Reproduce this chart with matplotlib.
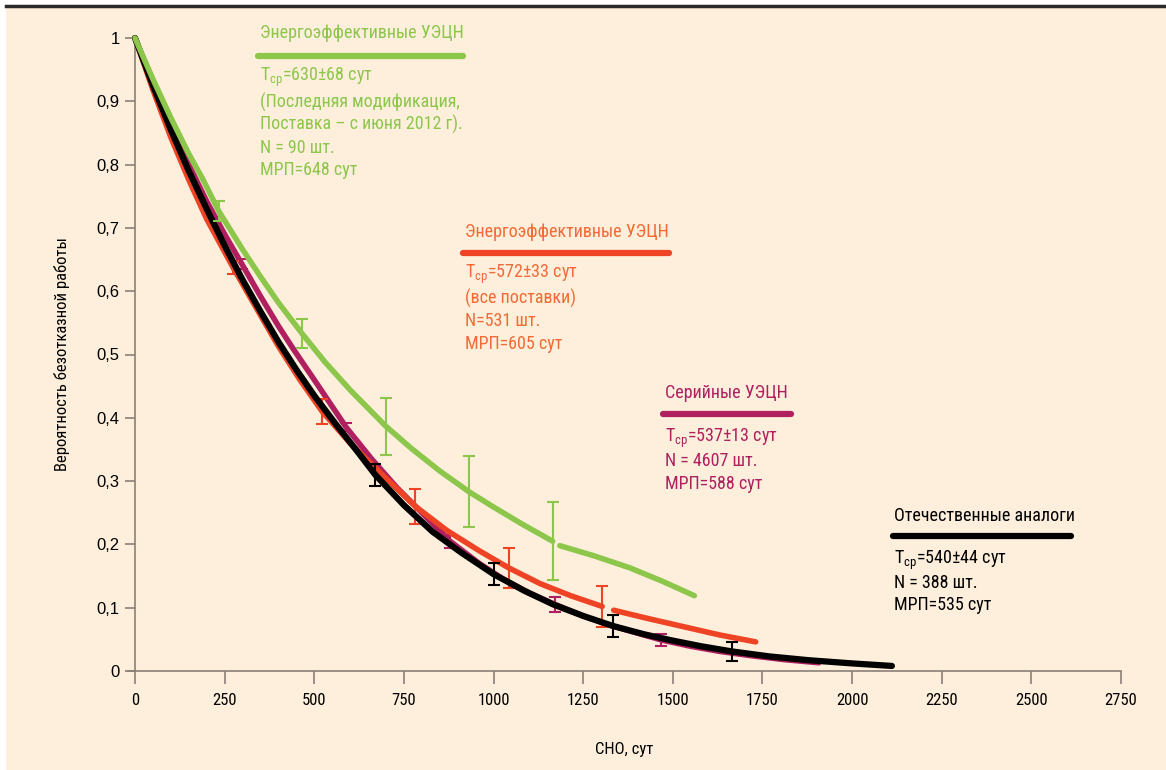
import matplotlib
matplotlib.use('Agg')
import matplotlib.pyplot as plt
from matplotlib import font_manager
from matplotlib.patches import Rectangle

# --- данные ---
green_x = [0, 50, 100, 150, 190, 233, 300, 350, 400, 466, 530, 600, 699, 770, 850, 932, 1000, 1080, 1165]
green_y = [1.0, 0.935, 0.874, 0.817, 0.776, 0.727, 0.666, 0.623, 0.582, 0.533, 0.488, 0.444, 0.387,
           0.352, 0.316, 0.283, 0.259, 0.232, 0.205]
green_x2 = [1185, 1280, 1380, 1470, 1560]
green_y2 = [0.198, 0.182, 0.163, 0.142, 0.119]
green_err_x = [233, 466, 699, 932, 1165]
green_err_y = [0.727, 0.533, 0.387, 0.283, 0.205]
green_err = [0.016, 0.023, 0.045, 0.056, 0.062]

red_x = [0, 50, 100, 150, 200, 274, 350, 400, 460, 522, 600, 690, 782, 870, 960, 1042, 1130, 1215, 1303]
red_y = [1.0, 0.918, 0.843, 0.776, 0.714, 0.637, 0.562, 0.513, 0.46, 0.41, 0.36, 0.31, 0.26,
         0.222, 0.19, 0.163, 0.138, 0.119, 0.102]
red_x2 = [1335, 1430, 1530, 1630, 1731]
red_y2 = [0.096, 0.083, 0.07, 0.057, 0.046]
red_err_x = [274, 522, 782, 1042, 1303]
red_err_y = [0.637, 0.41, 0.26, 0.163, 0.102]
red_err = [0.01, 0.02, 0.028, 0.032, 0.032]

purple_x = [0, 50, 100, 150, 200, 250, 298, 350, 400, 440, 500, 589, 660, 730, 800, 879, 960, 1025,
            1100, 1172, 1250, 1320, 1400, 1468, 1550, 1630, 1720, 1810, 1907]
purple_y = [1.0, 0.93, 0.862, 0.8, 0.742, 0.69, 0.643, 0.592, 0.545, 0.51, 0.46, 0.385, 0.335, 0.29,
            0.25, 0.205, 0.17, 0.146, 0.123, 0.105, 0.087, 0.073, 0.06, 0.049, 0.039, 0.031, 0.024,
            0.018, 0.013]
purple_err_x = [298, 589, 879, 1172, 1468]
purple_err_y = [0.643, 0.385, 0.205, 0.105, 0.049]
purple_err = [0.008, 0.006, 0.01, 0.012, 0.01]

black_x = [0, 50, 100, 150, 200, 250, 300, 350, 400, 450, 500, 560, 620, 670, 750, 830, 910, 1000,
           1085, 1167, 1250, 1334, 1420, 1500, 1580, 1664, 1770, 1880, 2000, 2111]
black_y = [1.0, 0.925, 0.855, 0.79, 0.73, 0.672, 0.618, 0.568, 0.52, 0.476, 0.435, 0.39, 0.347, 0.31,
           0.262, 0.22, 0.187, 0.153, 0.127, 0.105, 0.087, 0.071, 0.058, 0.048, 0.039, 0.031, 0.023,
           0.017, 0.012, 0.008]
black_err_x = [670, 1000, 1334, 1664]
black_err_y = [0.31, 0.153, 0.071, 0.031]
black_err = [0.017, 0.017, 0.017, 0.015]

x_ticks = [0, 250, 500, 750, 1000, 1250, 1500, 1750, 2000, 2250, 2500, 2750]
y_ticks = [0, 0.1, 0.2, 0.3, 0.4, 0.5, 0.6, 0.7, 0.8, 0.9, 1.0]
y_labels = ['0', '0,1', '0,2', '0,3', '0,4', '0,5', '0,6', '0,7', '0,8', '0,9', '1']

GREEN = '#8cc64b'
RED = '#ee4324'
RED_TXT = '#f26a36'
PURPLE = '#b01f5f'
BLACK = '#000000'
BG = '#fdefdb'
AXC = '#8a7f78'

names = {f.name for f in font_manager.fontManager.ttflist}


def pick(cands):
    for c in cands:
        if c in names:
            return c
    return 'DejaVu Sans'


NARROW = pick(['Liberation Sans Narrow', 'Roboto Condensed', 'Liberation Sans', 'Arial', 'Roboto'])
REG = pick(['Liberation Sans', 'Arial', 'Roboto'])
plt.rcParams['font.family'] = [REG, 'DejaVu Sans']

fig = plt.figure(figsize=(11.66, 7.70), dpi=100)
fig.patch.set_facecolor('white')
fig.add_artist(Rectangle((6 / 1166, 0), 1, 1 - 7 / 770, transform=fig.transFigure,
                         facecolor=BG, edgecolor='none', zorder=-10))
fig.add_artist(plt.Line2D([6 / 1166, 1], [1 - 5.5 / 770] * 2, color='#2a2a2a', lw=2.5,
                          zorder=-5))

ax = fig.add_axes([128 / 1166, 1 - 671 / 770, (1121 - 128) / 1166, (671 - 38) / 770])
ax.set_facecolor('none')
ax.set_xlim(-19.5, 2750)
ax.set_ylim(0, 1)

# кривые
ax.plot(purple_x, purple_y, color=PURPLE, lw=4, zorder=2, clip_on=False, solid_capstyle='round')
ax.errorbar(purple_err_x, purple_err_y, yerr=purple_err, fmt='none', ecolor=PURPLE,
            elinewidth=1.5, capsize=4, capthick=1.5, zorder=2.5)
ax.plot(red_x, red_y, color=RED, lw=4, zorder=3, clip_on=False, solid_capstyle='round')
ax.plot(red_x2, red_y2, color=RED, lw=4, zorder=3, solid_capstyle='round')
ax.errorbar(red_err_x, red_err_y, yerr=red_err, fmt='none', ecolor=RED,
            elinewidth=1.5, capsize=4, capthick=1.5, zorder=3.5)
ax.plot(black_x, black_y, color=BLACK, lw=4.5, zorder=4, clip_on=False, solid_capstyle='round')
ax.errorbar(black_err_x, black_err_y, yerr=black_err, fmt='none', ecolor=BLACK,
            elinewidth=1.5, capsize=4, capthick=1.5, zorder=4.5)
ax.plot(green_x, green_y, color=GREEN, lw=4, zorder=5, clip_on=False, solid_capstyle='round')
ax.plot(green_x2, green_y2, color=GREEN, lw=4, zorder=5, solid_capstyle='round')
ax.errorbar(green_err_x, green_err_y, yerr=green_err, fmt='none', ecolor=GREEN,
            elinewidth=1.5, capsize=4, capthick=1.5, zorder=5.5)


# подписи к кривым
def block(x0, x1, y_title, y_line, y_text, title, lines, lcolor, tcolor):
    ax.text(x0 + 5, y_title, title, color=tcolor, fontsize=13, family=NARROW,
            va='center', ha='left')
    ax.plot([x0, x1], [y_line, y_line], color=lcolor, lw=4.5, solid_capstyle='round',
            clip_on=False)
    for yy, s in zip(y_text, lines):
        ax.text(x0 + 5, yy, s, color=tcolor, fontsize=13, family=NARROW,
                va='center', ha='left')


block(343, 916, 1.008, 0.972, [0.937, 0.899, 0.863, 0.826, 0.791],
      'Энергоэффективные УЭЦН',
      [r'T$_\mathregular{ср}$=630±68 сут', '(Последняя модификация,',
       'Поставка – с июня 2012 г).', 'N = 90 шт.', 'МРП=648 сут'], GREEN, GREEN)
block(916, 1488, 0.694, 0.660, [0.626, 0.589, 0.553, 0.517],
      'Энергоэффективные УЭЦН',
      [r'T$_\mathregular{ср}$=572±33 сут', '(все поставки)', 'N=531 шт.', 'МРП=605 сут'],
      RED, RED_TXT)
block(1474, 1829, 0.439, 0.406, [0.368, 0.332, 0.295],
      'Серийные УЭЦН',
      [r'T$_\mathregular{ср}$=537±13 сут', 'N = 4607 шт.', 'МРП=588 сут'], PURPLE, PURPLE)
block(2113, 2610, 0.245, 0.213, [0.175, 0.139, 0.104],
      'Отечественные аналоги',
      [r'T$_\mathregular{ср}$=540±44 сут', 'N = 388 шт.', 'МРП=535 сут'], BLACK, BLACK)

# оси
for s in ['top', 'right']:
    ax.spines[s].set_visible(False)
ax.spines['left'].set_position(('data', 0))
for s in ['left', 'bottom']:
    ax.spines[s].set_color(AXC)
    ax.spines[s].set_linewidth(1.2)
ax.set_xticks(x_ticks)
ax.set_xticklabels([str(v) for v in x_ticks], family=NARROW, fontsize=12)
ax.set_yticks(y_ticks)
ax.set_yticklabels(y_labels, fontsize=12)
ax.tick_params(axis='x', direction='out', length=9, width=1.2, color=AXC, pad=7)
ax.tick_params(axis='y', direction='out', length=7, width=1.2, color=AXC, pad=4)
ax.set_xlabel('СНО, сут', family=NARROW, fontsize=12, labelpad=24)
ax.set_ylabel('Вероятность безотказной работы', family=NARROW, fontsize=12, labelpad=19)

fig.savefig('out.png', dpi=100, facecolor=fig.get_facecolor())
